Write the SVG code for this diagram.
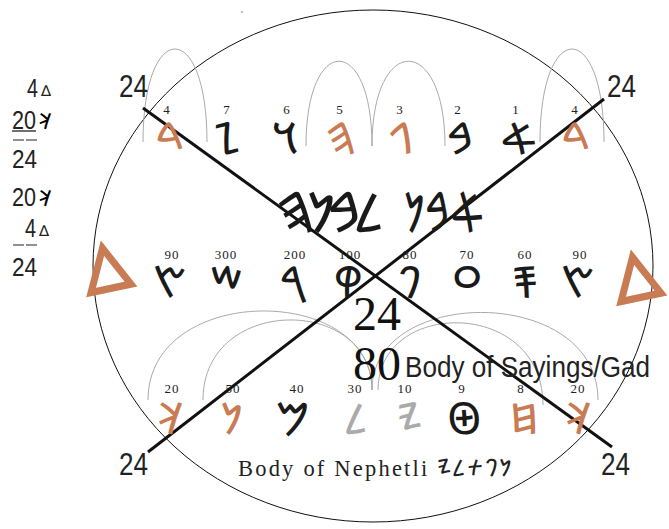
<svg xmlns="http://www.w3.org/2000/svg" width="669" height="529" viewBox="0 0 669 529">
<style>
.num{font-family:"Liberation Serif",serif;font-size:13px;fill:#222;text-anchor:middle;letter-spacing:1px}
.ph{font-family:"Noto Sans Phoenician","Noto Sans","DejaVu Sans",sans-serif;font-size:44px;text-anchor:middle}
.k{fill:#1a1a1a}.o{fill:#c97b54}.g{fill:#aaaaaa}
.arc{fill:none;stroke:#aaaaaa;stroke-width:1}
.x{stroke:#111;stroke-width:3}
.lbl{font-family:"Liberation Sans Narrow","Liberation Sans",sans-serif;font-size:31px;fill:#222}
.side{font-family:"Liberation Sans Narrow","Liberation Sans",sans-serif;font-size:26px;fill:#222}
.sym{font-family:"DejaVu Sans",sans-serif;font-size:15px;fill:#222}
.big{font-family:"Liberation Serif",serif;font-size:48px;fill:#111;text-anchor:middle}
.tri{font-family:"DejaVu Sans",sans-serif;font-size:60px;fill:#c97b54;stroke:#c97b54;stroke-width:4;text-anchor:middle}
.wd{font-family:"Noto Sans Phoenician","Noto Sans","DejaVu Sans",sans-serif;font-size:56px;fill:#1a1a1a;unicode-bidi:bidi-override;direction:ltr}
</style>
<rect width="669" height="529" fill="#fff"/>
<ellipse id="outline" cx="373" cy="266" rx="280" ry="256" fill="none" stroke="#111" stroke-width="1"/>
<circle cx="242" cy="12" r="0.8" fill="#666"/>
<g id="connectors">
<path class="arc" d="M143,142 C143,18 207,18 207,142"/>
<path class="arc" d="M306,146 C306,33 372,33 372,146"/>
<path class="arc" d="M372,146 C372,33 445,33 445,146"/>
<path class="arc" d="M540,142 C540,18 604,18 604,142"/>
<path class="arc" d="M148,400 C148,283 372,283 372,390"/>
<path class="arc" d="M203,400 C203,295 372,295 372,390"/>
<path class="arc" d="M372,390 C372,285 598,285 598,400"/>
<path class="arc" d="M378,390 C378,298 543,298 543,405"/>
<line class="x" x1="143" y1="108" x2="612" y2="447"/>
<line class="x" x1="148" y1="452" x2="604" y2="99"/>
</g>
<g id="corner-labels" class="lbl">
<text x="119" y="97" textLength="29" lengthAdjust="spacingAndGlyphs">24</text>
<text x="607" y="97" textLength="29" lengthAdjust="spacingAndGlyphs">24</text>
<text x="119" y="475" textLength="29" lengthAdjust="spacingAndGlyphs">24</text>
<text x="601" y="475" textLength="29" lengthAdjust="spacingAndGlyphs">24</text>
</g>
<g id="side-sums">
<text class="side" x="27" y="97" textLength="11" lengthAdjust="spacingAndGlyphs">4</text><text class="sym" x="41" y="96">∆</text>
<text class="side" x="12" y="129" textLength="24" lengthAdjust="spacingAndGlyphs">20</text><text class="ph" x="45" y="129" style="font-size:22px">𐤊</text>
<line x1="12" y1="131" x2="36" y2="131" stroke="#222" stroke-width="1.3"/>
<line x1="13" y1="140" x2="24" y2="140" stroke="#222"/>
<line x1="26" y1="140" x2="37" y2="140" stroke="#222"/>
<text class="side" x="12" y="168" textLength="25" lengthAdjust="spacingAndGlyphs">24</text>
<text class="side" x="12" y="206" textLength="24" lengthAdjust="spacingAndGlyphs">20</text><text class="ph" x="45" y="206" style="font-size:22px">𐤊</text>
<text class="side" x="25" y="237" textLength="11" lengthAdjust="spacingAndGlyphs">4</text><text class="sym" x="39" y="236">∆</text>
<line x1="13" y1="245" x2="24" y2="245" stroke="#222"/>
<line x1="26" y1="245" x2="37" y2="245" stroke="#222"/>
<text class="side" x="12" y="276" textLength="25" lengthAdjust="spacingAndGlyphs">24</text>
</g>
<g id="top-row">
<text class="num" x="167" y="114">4</text><text class="ph o" x="170" y="154">𐤃</text>
<text class="num" x="227" y="114">7</text><text class="ph k" x="227" y="154">𐤆</text>
<text class="num" x="287" y="114">6</text><text class="ph k" x="287" y="154">𐤅</text>
<text class="num" x="340" y="114">5</text><text class="ph o" x="341" y="154">𐤄</text>
<text class="num" x="400" y="114">3</text><text class="ph o" x="402" y="154">𐤂</text>
<text class="num" x="458" y="114">2</text><text class="ph k" x="461" y="154">𐤁</text>
<text class="num" x="516" y="114">1</text><text class="ph k" x="519" y="154">𐤀</text>
<text class="num" x="575" y="114">4</text><text class="ph o" x="576" y="154">𐤃</text>
</g>
<g id="word">
<text class="wd" x="276" y="232" textLength="108" lengthAdjust="spacing">𐤄𐤍𐤁𐤋</text>
<text class="wd" x="404" y="232" textLength="80" lengthAdjust="spacingAndGlyphs">𐤍𐤁𐤀</text>
</g>
<g id="middle-row">
<text class="tri" x="106" y="283" transform="rotate(-12 106 265)">△</text>
<text class="tri" x="636" y="292" transform="rotate(-12 636 274)">△</text>
<text class="num" x="172" y="259">90</text><text class="ph k" x="170" y="298">𐤑</text>
<text class="num" x="226" y="259">300</text><text class="ph k" x="227" y="298">𐤔</text>
<text class="num" x="295" y="259">200</text><text class="ph k" x="293" y="298">𐤓</text>
<text class="num" x="350" y="259">100</text><text class="ph k" x="348" y="298">𐤒</text>
<text class="num" x="410" y="259">80</text><text class="ph k" x="410" y="298">𐤐</text>
<text class="num" x="467" y="259">70</text><text class="ph k" x="467" y="298">𐤏</text>
<text class="num" x="525" y="259">60</text><text class="ph k" x="525" y="298">𐤎</text>
<text class="num" x="580" y="259">90</text><text class="ph k" x="578" y="298">𐤑</text>
</g>
<g id="center">
<text class="big" x="377" y="330">24</text>
<text class="big" x="377" y="380">80</text>
<text x="405" y="377" textLength="245" lengthAdjust="spacingAndGlyphs" style="font-family:'Liberation Sans Narrow','Liberation Sans',sans-serif;font-size:29px;fill:#222">Body of Sayings/Gad</text>
</g>
<g id="bottom-row">
<text class="num" x="172" y="393">20</text><text class="ph o" x="170" y="434">𐤊</text>
<text class="num" x="233" y="393">50</text><text class="ph o" x="232" y="434">𐤍</text>
<text class="num" x="297" y="393">40</text><text class="ph k" x="293" y="434">𐤌</text>
<text class="num" x="355" y="393">30</text><text class="ph g" x="356" y="434">𐤋</text>
<text class="num" x="405" y="393">10</text><text class="ph g" x="410" y="434">𐤉</text>
<text class="num" x="462" y="393">9</text><text class="ph k" x="464" y="434">𐤈</text>
<text class="num" x="521" y="393">8</text><text class="ph o" x="524" y="434">𐤇</text>
<text class="num" x="578" y="393">20</text><text class="ph o" x="578" y="434">𐤊</text>
</g>
<g id="footer">
<text x="238" y="476" style="font-family:'Liberation Serif',serif;font-size:22.5px;fill:#222;letter-spacing:2.2px">Body of Nephetli</text>
<text x="437" y="476" style="font-family:'Noto Sans Phoenician','Noto Sans',sans-serif;font-size:24px;fill:#222;letter-spacing:1px;unicode-bidi:bidi-override;direction:ltr">𐤉𐤋𐤕𐤐𐤍</text>
</g>
</svg>
